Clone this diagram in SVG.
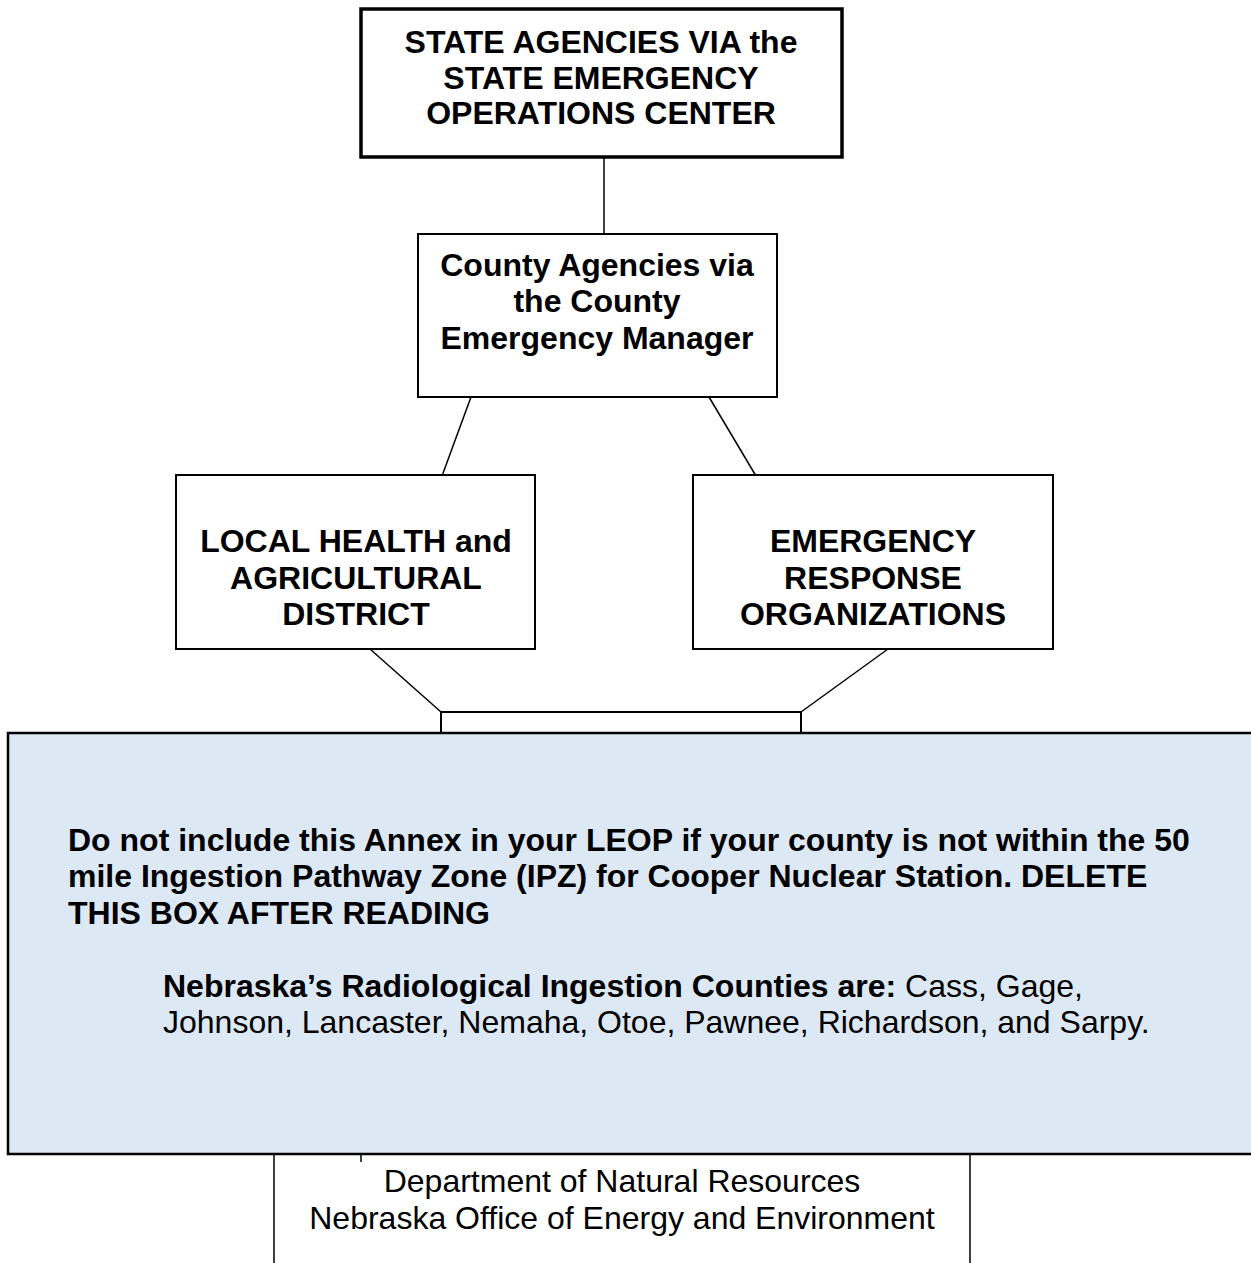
<svg xmlns="http://www.w3.org/2000/svg" width="1251" height="1263" viewBox="0 0 1251 1263">
<style>
.box{fill:#fff;stroke:#000;stroke-width:2}
.thick{stroke-width:3.5}
.b{font-family:"Liberation Sans",Arial,sans-serif;font-weight:bold;font-size:32px;fill:#000;text-anchor:middle}
.n{font-family:"Liberation Sans",Arial,sans-serif;font-size:32px;fill:#000}
.bl{font-family:"Liberation Sans",Arial,sans-serif;font-weight:bold;font-size:32px;fill:#000}
.c{stroke:#000;stroke-width:1.5;fill:none}
</style>
<rect width="1251" height="1263" fill="#fff"/>
<g id="connectors">
<line class="c" x1="604" y1="157" x2="604" y2="234"/>
<line class="c" x1="471" y1="397" x2="442" y2="476"/>
<line class="c" x1="709" y1="397" x2="756" y2="476"/>
<line class="c" x1="370" y1="649" x2="441" y2="712"/>
<line class="c" x1="888" y1="649" x2="801" y2="712"/>
</g>
<g id="node-state">
<rect class="box thick" x="361" y="9" width="481" height="148"/>
<text class="b" x="601" y="53" font-size="32.5">STATE AGENCIES VIA the</text>
<text class="b" x="601" y="89" font-size="32.5">STATE EMERGENCY</text>
<text class="b" x="601" y="124" font-size="32.5">OPERATIONS CENTER</text>
</g>
<g id="node-county">
<rect class="box" x="418" y="234" width="359" height="163"/>
<text class="b" x="597" y="276">County Agencies via</text>
<text class="b" x="597" y="312">the County</text>
<text class="b" x="597" y="349">Emergency Manager</text>
</g>
<g id="node-local">
<rect class="box" x="176" y="475" width="359" height="174"/>
<text class="b" x="356" y="552" font-size="32.5">LOCAL HEALTH and</text>
<text class="b" x="356" y="589" font-size="32.5">AGRICULTURAL</text>
<text class="b" x="356" y="625" font-size="32.5">DISTRICT</text>
</g>
<g id="node-ero">
<rect class="box" x="693" y="475" width="360" height="174"/>
<text class="b" x="873" y="552" font-size="32.5">EMERGENCY</text>
<text class="b" x="873" y="589" font-size="32.5">RESPONSE</text>
<text class="b" x="873" y="625" font-size="32.5">ORGANIZATIONS</text>
</g>
<g id="node-bottom">
<rect class="box" x="441" y="712" width="360" height="60"/>
<line class="c" x1="274" y1="1154" x2="274" y2="1263"/>
<line class="c" x1="970" y1="1154" x2="970" y2="1263"/>
<line class="c" x1="361" y1="1154" x2="361" y2="1162"/>
<text class="n" x="622" y="1192" text-anchor="middle">Department of Natural Resources</text>
<text class="n" x="622" y="1229" text-anchor="middle">Nebraska Office of Energy and Environment</text>
</g>
<g id="note">
<rect x="8" y="733" width="1260" height="421" fill="#dde8f5" stroke="#000" stroke-width="2.5"/>
<text class="bl" x="68" y="851">Do not include this Annex in your LEOP if your county is not within the 50</text>
<text class="bl" x="68" y="887">mile Ingestion Pathway Zone (IPZ) for Cooper Nuclear Station. DELETE</text>
<text class="bl" x="68" y="924">THIS BOX AFTER READING</text>
<text class="n" x="163" y="997" font-size="31"><tspan font-weight="bold">Nebraska’s Radiological Ingestion Counties are:</tspan> Cass, Gage,</text>
<text class="n" x="163" y="1033" font-size="31">Johnson, Lancaster, Nemaha, Otoe, Pawnee, Richardson, and Sarpy.</text>
</g>
</svg>
